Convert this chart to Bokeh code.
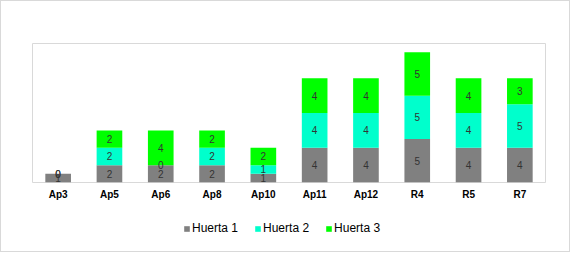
from bokeh.plotting import figure
from bokeh.layouts import column
from bokeh.models import FactorRange, Range1d, ColumnDataSource, Legend, LegendItem
from bokeh.core.properties import value
from bokeh.embed import file_html
from bokeh.resources import INLINE

categories = ["Ap3", "Ap5", "Ap6", "Ap8", "Ap10", "Ap11", "Ap12", "R4", "R5", "R7"]
huerta1 = [1, 2, 2, 2, 1, 4, 4, 5, 4, 4]
huerta2 = [0, 2, 0, 2, 1, 4, 4, 5, 4, 5]
huerta3 = [0, 2, 4, 2, 2, 4, 4, 5, 4, 3]
series_names = ["Huerta 1", "Huerta 2", "Huerta 3"]
colors = ["#808080", "#00FFCC", "#00FF00"]

keys = ["h1", "h2", "h3"]
src = ColumnDataSource(dict(cat=categories, h1=huerta1, h2=huerta2, h3=huerta3))

p = figure(width=568, height=210, x_range=FactorRange(factors=categories, range_padding=0),
           y_range=Range1d(0, 16), output_backend="svg", toolbar_location=None,
           min_border_left=31, min_border_right=24, min_border_top=42, min_border_bottom=29)

p.vbar_stack(keys, x="cat", width=0.5, source=src, color=colors, line_color=None)

# data labels at segment centers
series = [huerta1, huerta2, huerta3]
base = [0] * len(categories)
for vals in series:
    mids = [b + v / 2 for b, v in zip(base, vals)]
    lsrc = ColumnDataSource(dict(cat=categories, y=mids, t=[str(v) for v in vals]))
    p.text(x="cat", y="y", text="t", source=lsrc, text_align="center", text_baseline="middle",
           text_font=value("Liberation Sans"), text_font_size="10px", text_color="#333333")
    base = [b + v for b, v in zip(base, vals)]

p.yaxis.visible = False
p.xgrid.visible = False
p.ygrid.visible = False
p.outline_line_color = "#d9d9d9"
p.outline_line_width = 1
p.xaxis.axis_line_color = None
p.xaxis.major_tick_line_color = None
p.xaxis.minor_tick_line_color = None
p.xaxis.major_tick_out = 0
p.xaxis.major_tick_in = 0
p.xaxis.major_label_text_font = "Liberation Sans"
p.xaxis.major_label_text_font_style = "bold"
p.xaxis.major_label_text_font_size = "10px"
p.xaxis.major_label_text_color = "#000000"
p.xaxis.major_label_standoff = 6

# legend strip below the chart (zero-height swatch renderers, nothing visible)
p2 = figure(width=568, height=40, output_backend="svg", toolbar_location=None,
            min_border=0, x_range=Range1d(0, 1), y_range=Range1d(0, 1))
p2.axis.visible = False
p2.grid.visible = False
p2.outline_line_color = None
dummies = [p2.vbar(x=[0.5], top=[0], bottom=[0], width=0.01, color=c, line_color=None)
           for c in colors]
legend = Legend(items=[LegendItem(label=n, renderers=[r]) for n, r in zip(series_names, dummies)],
                orientation="horizontal", location=(151, 16),
                label_text_font="Liberation Sans", label_text_font_size="12px",
                label_text_color="#000000", glyph_width=7, glyph_height=7,
                label_standoff=2, spacing=16, padding=4, margin=0,
                border_line_color=None, background_fill_alpha=0)
p2.add_layout(legend, "center")

layout = column(p, p2, spacing=0)
layout.styles = {"border": "1px solid #d9d9d9"}

open("out.html", "w").write(file_html(layout, INLINE))
